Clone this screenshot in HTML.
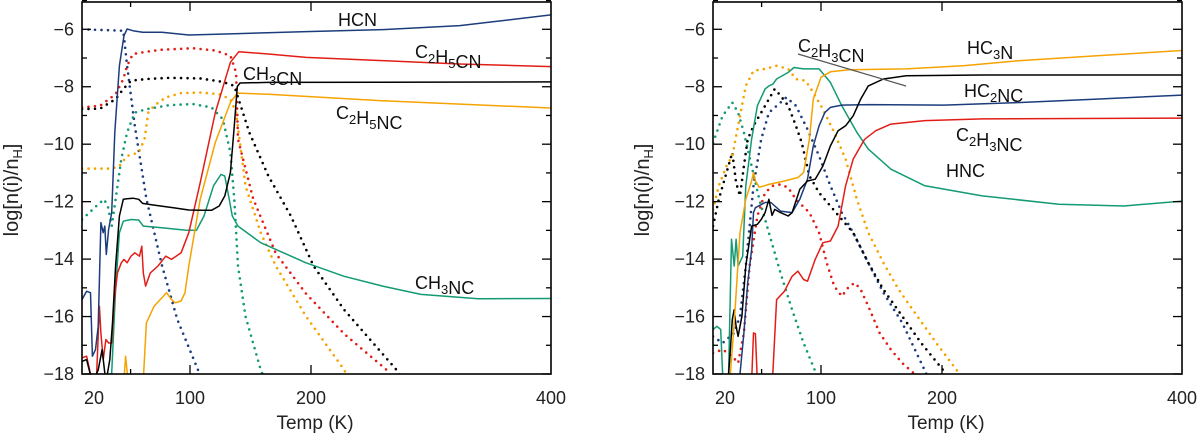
<!DOCTYPE html>
<html><head><meta charset="utf-8"><style>
html,body{margin:0;padding:0;background:#fff;}
svg{display:block;font-family:"Liberation Sans",sans-serif;}
</style></head><body>
<svg id="fig" width="1200" height="433" viewBox="0 0 1200 433" xmlns="http://www.w3.org/2000/svg"></svg>
<script>
// ---- axis data ----
const xTicks=[20,100,200,400];
const xTickLabels=["20","100","200","400"];
const yTicks=[-18,-16,-14,-12,-10,-8,-6];
const yTickLabels=["\u221218","\u221216","\u221214","\u221212","\u221210","\u22128","\u22126"];
// ---- left panel ----
const hcnT=[20,23.4,26.3,27.7,30,32,34,35.7,36.9,38,39.7,42,44.3,47.7,51.1,53.4,57.7,64.9,79.1,99.1,133,196,260,324,400];
const hcnV=[-15.41,-15.12,-15.17,-17.38,-17.15,-16.34,-12.73,-13.08,-12.85,-13.84,-12.97,-12.38,-9.59,-7.27,-6.22,-5.99,-6.05,-6.1,-6.1,-6.2,-6.16,-6.08,-6.01,-5.87,-5.5];
const hcnIceT=[20,50.6,53.4,59.1,67.7,79.1,90.6,108,115];
const hcnIceV=[-6,-6.05,-7.27,-9.36,-11.9,-14.2,-16.1,-18,-19];
const c2h5cnT=[20,23.4,27.7,30.6,32.9,34,35.7,37.7,39.7,42,43.7,46.3,49.1,51.1,53.4,56.3,59.1,62.6,64.3,65.4,67.1,70.6,76.3,82,86.3,93.4,99.1,108.4,120.9,133.4,140.3,164.7,195.9,259.7,323.5,400];
const c2h5cnV=[-17.44,-17.38,-18.3,-18.3,-15.64,-16.57,-17.5,-16.8,-16.92,-16.92,-15.52,-14.48,-14.13,-14.01,-14.13,-13.9,-13.78,-13.9,-13.55,-14.48,-14.94,-14.48,-14.24,-13.9,-14.01,-13.78,-13.08,-11.34,-8.9,-7.15,-6.78,-6.86,-6.98,-7.09,-7.21,-7.3];
const c2h5cnIceT=[20,33.4,44.9,50.6,53.4,57.7,67.7,79.1,102.2,120.9,133.4,138.1,139.7,152.2,170.9,195.9,227.6,262.8,270];
const c2h5cnIceV=[-8.72,-8.66,-8.26,-7.73,-7.27,-6.86,-6.78,-6.71,-6.66,-6.74,-6.92,-7.5,-9.83,-11.9,-13.8,-15.2,-16.6,-17.85,-18.5];
const ch3cnT=[20,23.4,27.7,32,34.9,37.7,40.6,42.6,44.9,47.7,50.6,53.4,57.7,62,64.9,73.4,87.7,99.1,108.4,117.8,124.1,128.8,133.4,136.6,139.1,141.3,164.7,400];
const ch3cnV=[-17.56,-17.5,-18.3,-17.86,-17.15,-18.3,-17.5,-16.22,-14.24,-12.5,-11.92,-11.9,-11.88,-11.92,-12.06,-12.12,-12.21,-12.29,-12.3,-12.3,-12.15,-11.8,-10.99,-9.36,-7.99,-7.87,-7.85,-7.83];
const ch3cnIceT=[20,33.4,44.9,50.6,56.3,67.7,84.9,108.4,127.2,136.6,149.1,164.7,183.4,202.2,227.6,272.2,280];
const ch3cnIceV=[-8.78,-8.76,-8.43,-8.08,-7.79,-7.73,-7.69,-7.71,-7.83,-7.97,-9.6,-11.1,-12.5,-14.24,-15.76,-17.9,-18.5];
const c2h5ncT=[45,51.1,52.3,54,58,65.4,67.7,73.4,79.1,82.6,86.3,89.1,93.4,96.3,99.1,108.4,120.9,133.4,139.1,164.7,259.7,400];
const c2h5ncV=[-19,-18.2,-17.38,-18.2,-19,-18.2,-16.22,-15.64,-15.35,-15.17,-15.41,-15.52,-15.46,-15.17,-14.24,-11.92,-9.94,-8.55,-8.22,-8.26,-8.49,-8.74];
const c2h5ncIceT=[20,42,47.7,53.4,62,66.3,69.1,73.4,82,93.4,108.4,124.1,133.4,138.1,145.9,158.4,170.9,195.9,227.6,235];
const c2h5ncIceV=[-10.85,-10.85,-10.76,-10.41,-10.29,-9.83,-8.9,-8.66,-8.37,-8.22,-8.2,-8.26,-8.43,-8.9,-11.45,-13.08,-14.24,-15.99,-17.85,-18.5];
const ch3ncT=[40,42,44.9,47.7,50.6,56.3,62,65.4,79.1,96.3,105.3,111.6,119.4,125.6,128.8,131.9,135,139.7,158.4,195.9,227.6,259.7,291.6,339.4,400];
const ch3ncV=[-19,-17.97,-15.06,-13.08,-12.68,-12.62,-12.64,-12.85,-12.91,-12.99,-13,-12.5,-11.45,-11.05,-11.11,-11.8,-12.5,-12.85,-13.43,-14.13,-14.6,-14.94,-15.23,-15.38,-15.37];
const ch3ncIceT=[20,30.6,36.3,39.1,42,44.9,49.1,53.4,59.1,67.7,84.9,102.2,117.8,127.2,133.4,136.6,139.7,145.9,158.4,165];
const ch3ncIceV=[-12.62,-12.15,-11.92,-12.15,-12.85,-11.92,-10.52,-9.59,-8.9,-8.78,-8.64,-8.6,-8.72,-9.13,-10.29,-11.92,-14.24,-15.99,-17.85,-18.5];
// ---- right panel ----
const hc3nT=[30,32.9,35.7,40,44.3,48.6,50,51.4,54.3,61.4,72.9,82.9,87.1,91.4,94.3,100,107.8,123.4,170.3,217.5,265.3,329.1,400];
const hc3nV=[-19,-18,-16.22,-13.08,-11.92,-11.28,-10.99,-11.28,-11.5,-11.4,-11.28,-11.16,-10.99,-9.83,-8.43,-7.67,-7.48,-7.41,-7.38,-7.27,-7.09,-6.92,-6.74];
const hc3nIceT=[20,24.3,30,34.3,38.6,44.3,50,58.6,67.1,75.7,81.4,88.6,94.3,101.6,110.9,120.3,129.7,139.1,151.6,164.1,179.7,195.3,212.8,220];
const hc3nIceV=[-12.27,-11.45,-10.76,-10.41,-9.36,-7.97,-7.44,-7.38,-7.27,-7.38,-7.73,-7.79,-8.2,-8.78,-9.59,-10.52,-11.92,-13.08,-14.13,-15.06,-15.99,-16.92,-17.9,-18.5];
const c2h3cnT=[30,32.9,34.3,35.7,37.1,38.6,41.4,44.3,48.6,52.9,55.7,58.6,61.4,63.7,65.7,70,75.7,78.6,84.3,90,95.7,101.6,107.8,114.1,120.3,126.6,132.8,139.1,151.6,170.3,233.5,400];
const c2h3cnV=[-19,-17.15,-16.1,-15.76,-16.34,-16.69,-15.99,-14.24,-12.85,-12.79,-12.62,-12.38,-11.92,-12.48,-12.27,-12.38,-12.5,-12.38,-11.57,-11.28,-11.22,-10.76,-10.06,-9.53,-9.36,-9.01,-8.43,-7.97,-7.73,-7.62,-7.59,-7.59];
const c2h3cnIceT=[20,24.3,30,34.3,37.1,40,42.9,45.7,50,55.7,61.4,65.7,70,75.7,81.4,85.7,91.4,98.6,107.8,117.2,126.6,139.1,151.6,167.2,182.8,201.6,208];
const c2h3cnIceV=[-12.85,-11.92,-10.99,-10.29,-11.34,-11.8,-10.76,-9.83,-9.36,-8.9,-8.43,-8.08,-8.31,-8.66,-9.36,-9.94,-11.1,-11.69,-12.15,-12.62,-13.08,-14.13,-15.06,-15.99,-16.92,-17.9,-18.5];
const hc2ncT=[38,40,42.9,45.7,48.6,50,51.4,58.6,62.9,70,78.6,84.3,90,94.3,98.6,103.1,107.8,117.2,139.1,201.6,265.3,329.1,400];
const hc2ncV=[-19,-18,-16.57,-14.83,-13.67,-12.38,-12.21,-12.03,-12.03,-12.33,-12.38,-11.92,-11.22,-10.06,-9.36,-8.9,-8.72,-8.64,-8.62,-8.64,-8.55,-8.43,-8.29];
const hc2ncIceT=[20,27.1,35.7,40,44.3,50,55.7,61.4,70,74.3,81.4,90,98.6,107.8,117.2,126.6,139.1,151.6,167.2,186,192];
const hc2ncIceV=[-16.69,-16.92,-16.57,-15.99,-14.24,-11.45,-9.83,-8.9,-8.55,-8.37,-8.66,-9.48,-10.41,-11.45,-12.38,-13.08,-14.13,-15.17,-16.22,-17.9,-18.5];
const c2h3ncT=[48,50,51.4,52.9,54,62.9,64.3,67.1,72.9,78.6,82.9,87.1,90,95.7,101.6,107.8,114.1,120.3,126.6,136,145.3,157.8,185.9,233.5,400];
const c2h3ncV=[-19,-16.57,-16.6,-18.3,-19,-19,-18,-15.41,-15.12,-14.6,-14.42,-14.71,-14.77,-14.01,-13.43,-13.37,-12.85,-11.45,-10.52,-9.83,-9.53,-9.3,-9.18,-9.12,-9.09];
const c2h3ncIceT=[20,27.1,34.3,38.6,42.9,47.1,52.9,58.6,64.3,70,75.7,81.4,91.4,98.6,104.7,110.9,117.2,123.4,128.1,132.8,139.1,148.4,157.8,167.2,176.6,180];
const c2h3ncIceV=[-17.27,-17.15,-17.38,-17.62,-16.57,-14.24,-12.5,-11.69,-11.45,-11.4,-11.51,-11.92,-12.38,-13.08,-14.13,-14.94,-15.29,-14.94,-14.83,-15.06,-15.64,-16.57,-17.15,-17.62,-17.97,-18.5];
const hncT=[20,22.9,25.7,27.1,29,31.4,33.7,35.7,37.1,38.6,42,44.3,48.6,52.9,58.6,61.4,64.3,67.1,75.7,80,87.1,94.3,98.6,107.8,117.2,129.7,139.1,157.8,185.9,233.5,297.3,351.5,400];
const hncV=[-16.45,-16.34,-16.45,-17.97,-18.6,-18.3,-13.31,-14.24,-13.31,-14.24,-13.9,-11.45,-9.83,-8.66,-8.08,-7.97,-7.91,-7.73,-7.5,-7.33,-7.38,-7.38,-7.38,-7.85,-8.66,-9.59,-10.17,-10.87,-11.45,-11.8,-12.09,-12.15,-11.98];
const hncIceT=[20,27.1,34.3,38.6,42.9,48.6,54.3,61.4,70,78.6,87.1,95.7,100];
const hncIceV=[-9.95,-9.01,-8.55,-8.9,-9.59,-10.76,-11.92,-13.08,-14.48,-15.76,-16.92,-17.9,-18.5];

const NS="http://www.w3.org/2000/svg";
const svg=document.getElementById('fig');
const C={navy:"#1c3c7c",red:"#e21d16",black:"#000",orange:"#f5a300",green:"#139a74"};
const TOP=2,BOT=374,W=469;
const Y0=-18,Y1=-5.05;
function yPix(v){return BOT-(v-Y0)/(Y1-Y0)*(BOT-TOP);}
const bT=[20,100,200,400],bO=[0,108,229,469];
function xOff(t){for(let i=0;i<3;i++){if(t<=bT[i+1]||i==2){return bO[i]+(t-bT[i])/(bT[i+1]-bT[i])*(bO[i+1]-bO[i]);}}}
function el(tag,attrs,parent){const e=document.createElementNS(NS,tag);for(const k in attrs)e.setAttribute(k,attrs[k]);(parent||svg).appendChild(e);return e;}

function panel(L,id){
  const g=el('g',{});
  
  
  const cp=el('clipPath',{id:'clip-'+id});
  el('rect',{x:L,y:TOP,width:W,height:BOT-TOP},cp);
  const plot=el('g',{'clip-path':'url(#clip-'+id+')'},g);
  
  
  const ax=el('g',{stroke:'#000','stroke-width':1.3},g);
  
  
  for(let v=-18;v<=-5;v++){const len=(v%2==0)?9:5;const y=yPix(v);
    el('line',{x1:L,y1:y,x2:L+len,y2:y},ax);el('line',{x1:L+W,y1:y,x2:L+W-len,y2:y},ax);}
  const xt=[56,100,200];
  xt.forEach((t,i)=>{const x=L+xOff(t);const len=i==0?5:9;
    el('line',{x1:x,y1:BOT,x2:x,y2:BOT-len},ax);el('line',{x1:x,y1:TOP,x2:x,y2:TOP+len},ax);});
  el('rect',{x:L,y:TOP,width:W,height:BOT-TOP,fill:'none',stroke:'#000','stroke-width':1.6},g);
  yTicks.forEach((v,i)=>{const t=el('text',{x:L-8,y:yPix(v)+6,'text-anchor':'end','font-size':18,fill:'#222'},g);t.textContent=yTickLabels[i];
    
    });
  xTicks.forEach((v,i)=>{const t=el('text',{x:L+xOff(v),y:404,'text-anchor':i==0?'start':'middle','font-size':18,fill:'#222'},g);
    if(i==0)t.setAttribute('x',L+2);
    t.textContent=xTickLabels[i];
    
    });
  const xtl=el('text',{x:L+233,y:429,'text-anchor':'middle','font-size':19,fill:'#222'},g);xtl.textContent='Temp  (K)';
  
  
  const ytl=el('text',{transform:'translate('+(L-64)+',190) rotate(-90)','text-anchor':'middle','font-size':20,fill:'#222'},g);
  ytl.innerHTML='log[n(i)/n<tspan font-size="13" dy="4">H</tspan><tspan dy="-4">]</tspan>';
  
  
  return {L,plot,g};
}
function series(P,T,V,color,dotted,name){
  let d='';
  for(let i=0;i<T.length;i++){d+=(i?'L':'M')+(P.L+xOff(T[i])).toFixed(1)+','+yPix(V[i]).toFixed(1);}
  const a={d,fill:'none',stroke:color};
  if(dotted){a['stroke-width']=2.6;a['stroke-dasharray']='0 6.5';a['stroke-linecap']='round';}
  else{a['stroke-width']=1.5;a['stroke-linejoin']='round';}
  const p=el('path',a,P.plot);
  
  
}
function label(P,x,y,parts,name){
  const t=el('text',{x,y,'font-size':18,fill:'#111'},P.g);
  let h='';parts.forEach(s=>{if(typeof s==='string')h+=s;else h+='<tspan font-size="13" dy="5">'+s[0]+'</tspan><tspan dy="-5"></tspan>';});
  t.innerHTML=h;
  
  
}
const PL=panel(82,'left-panel');
const PR=panel(713,'right-panel');

series(PL,hcnIceT,hcnIceV,C.navy,true,'hcn-ice-line');
series(PL,c2h5cnIceT,c2h5cnIceV,C.red,true,'c2h5cn-ice-line');
series(PL,ch3cnIceT,ch3cnIceV,C.black,true,'ch3cn-ice-line');
series(PL,c2h5ncIceT,c2h5ncIceV,C.orange,true,'c2h5nc-ice-line');
series(PL,ch3ncIceT,ch3ncIceV,C.green,true,'ch3nc-ice-line');
series(PL,ch3ncT,ch3ncV,C.green,false,'ch3nc-gas-line');
series(PL,c2h5ncT,c2h5ncV,C.orange,false,'c2h5nc-gas-line');
series(PL,c2h5cnT,c2h5cnV,C.red,false,'c2h5cn-gas-line');
series(PL,ch3cnT,ch3cnV,C.black,false,'ch3cn-gas-line');
series(PL,hcnT,hcnV,C.navy,false,'hcn-gas-line');

series(PR,hncIceT,hncIceV,C.green,true,'hnc-ice-line');
series(PR,c2h3ncIceT,c2h3ncIceV,C.red,true,'c2h3nc-ice-line');
series(PR,hc2ncIceT,hc2ncIceV,C.navy,true,'hc2nc-ice-line');
series(PR,c2h3cnIceT,c2h3cnIceV,C.black,true,'c2h3cn-ice-line');
series(PR,hc3nIceT,hc3nIceV,C.orange,true,'hc3n-ice-line');
series(PR,hncT,hncV,C.green,false,'hnc-gas-line');
series(PR,c2h3ncT,c2h3ncV,C.red,false,'c2h3nc-gas-line');
series(PR,hc2ncT,hc2ncV,C.navy,false,'hc2nc-gas-line');
series(PR,c2h3cnT,c2h3cnV,C.black,false,'c2h3cn-gas-line');
series(PR,hc3nT,hc3nV,C.orange,false,'hc3n-gas-line');

label(PL,338,26,['HCN'],'hcn-label');
label(PL,415,58,['C',['2'],'H',['5'],'CN'],'c2h5cn-label');
label(PL,243,80,['CH',['3'],'CN'],'ch3cn-label');
label(PL,336,119,['C',['2'],'H',['5'],'NC'],'c2h5nc-label');
label(PL,415,289,['CH',['3'],'NC'],'ch3nc-label');
label(PR,798,52,['C',['2'],'H',['3'],'CN'],'c2h3cn-label');
label(PR,967,54,['HC',['3'],'N'],'hc3n-label');
label(PR,964,97,['HC',['2'],'NC'],'hc2nc-label');
label(PR,956,141,['C',['2'],'H',['3'],'NC'],'c2h3nc-label');
label(PR,946,177,['HNC'],'hnc-label');
const pl=el('line',{x1:798,y1:54,x2:906,y2:86,stroke:'#555','stroke-width':1.2});


</script>
</body></html>
